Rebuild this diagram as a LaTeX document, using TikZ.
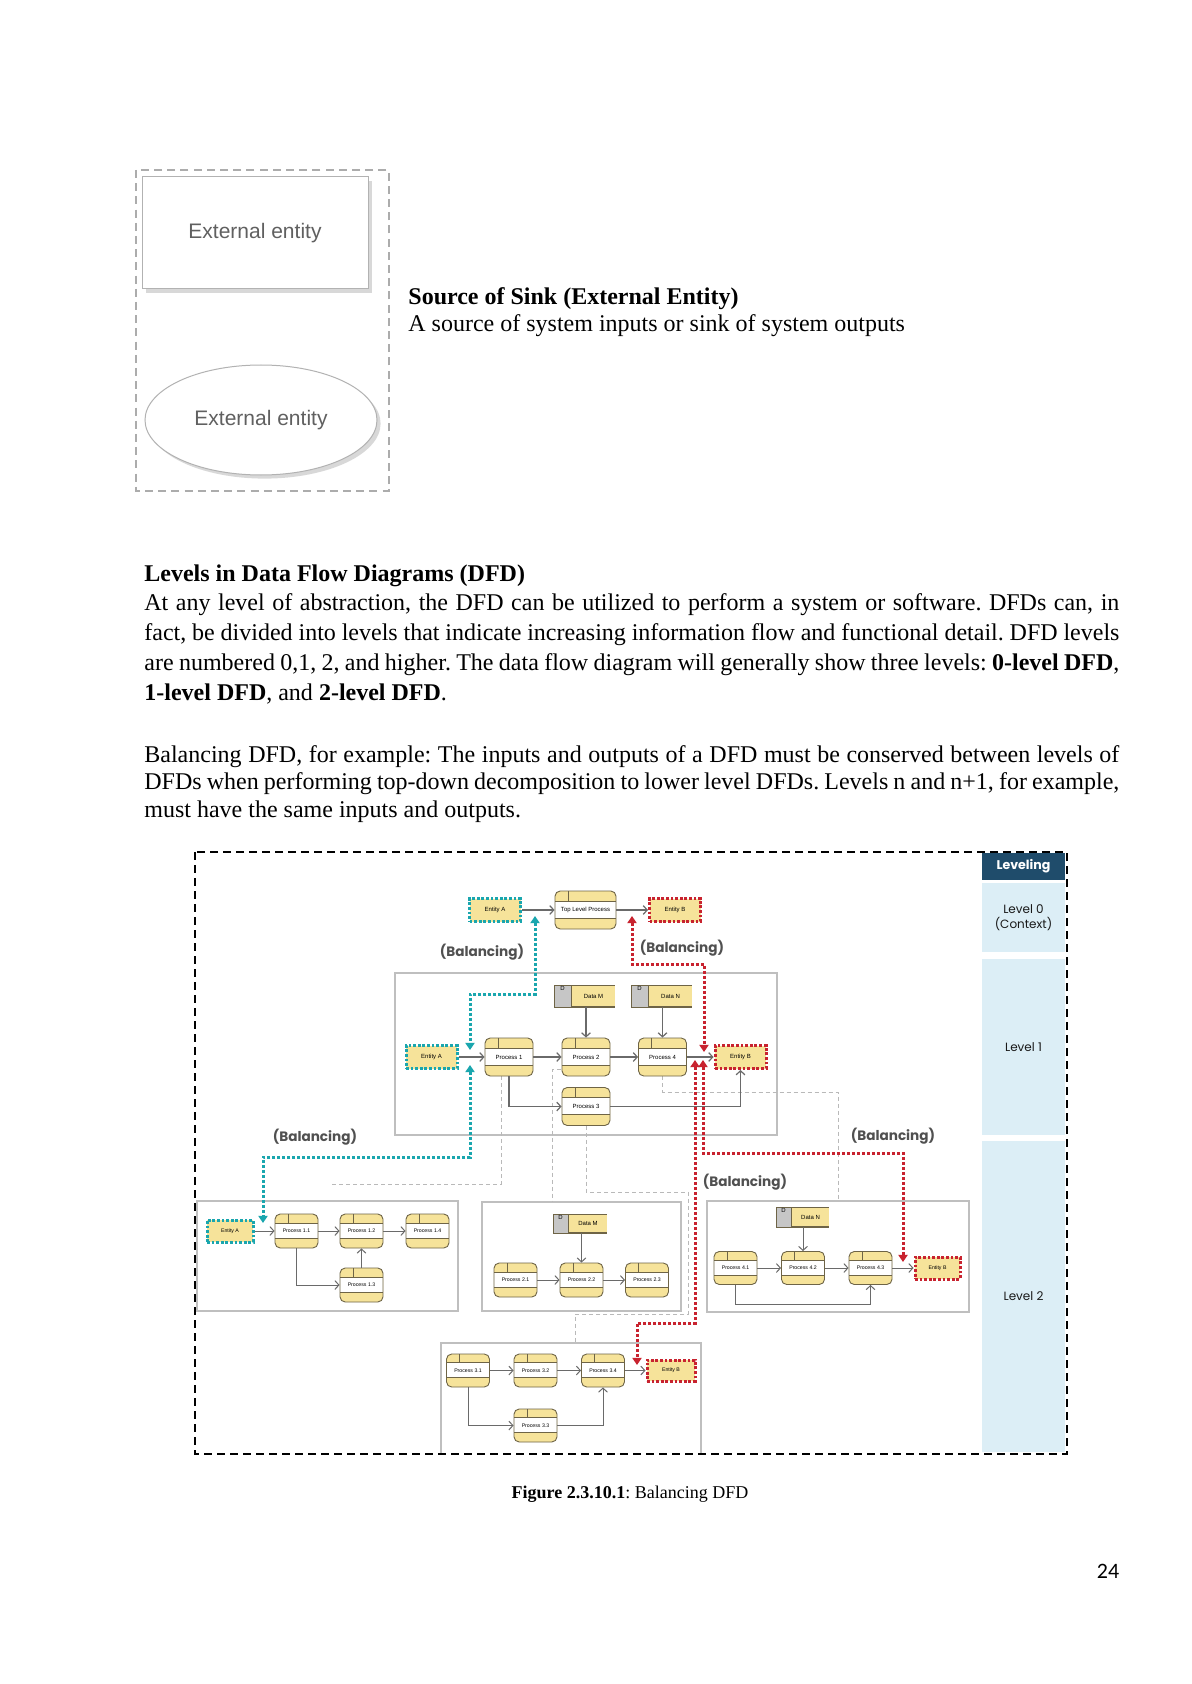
\documentclass[tikz,border=0pt]{standalone}
\usepackage{fontspec}
\setmainfont{Liberation Serif}
\setsansfont{Liberation Sans}
\newfontfamily\lvlfont{Poppins}
\newfontfamily\numfont{Carlito}
\usetikzlibrary{arrows.meta,calc,shapes.geometric,shadows,backgrounds}
\frenchspacing

\definecolor{procyel}{HTML}{F6E39A}
\definecolor{procedge}{HTML}{6E6446}
\definecolor{flowgray}{HTML}{6A6A6A}
\definecolor{balteal}{HTML}{1AA6AE}
\definecolor{balred}{HTML}{C8232F}
\definecolor{lvlblue}{HTML}{DCEEF6}
\definecolor{lvldark}{HTML}{1F4C6B}
\definecolor{taggray}{HTML}{C6C6C6}
\definecolor{baltext}{HTML}{505050}

\newcommand\jline[1]{\makebox[487.5pt][s]{#1}}
\newcommand\dfdfont{\sffamily\fontsize{3}{3.6}\selectfont}
\newcommand\sdfdfont{\sffamily\fontsize{2.6}{3.1}\selectfont}

\tikzset{
  >={Straight Barb[length=2pt,width=4.4pt]},
  bodytxt/.style={anchor=base west,inner sep=0pt,font=\fontsize{12}{15}\selectfont},
  extent/.style={draw=gray!60,line width=0.5pt,fill=white,minimum width=113pt,
    minimum height=56pt,font=\sffamily\fontsize{10.5}{12}\selectfont,text=gray!75!black,
    drop shadow={shadow xshift=1.8pt,shadow yshift=-1.8pt,opacity=0.3,fill=gray}},
  proc/.style={draw=procedge,line width=0.45pt,fill=procyel,rounded corners=2.6pt,
    minimum width=24pt,minimum height=19pt,inner sep=0pt,font=\dfdfont,
    path picture={
      \coordinate (pa) at (path picture bounding box.north west);
      \coordinate (pb) at (path picture bounding box.south east);
      \fill[white,sharp corners] ($(pa)!.27!(pa |- pb)$) rectangle ($(pa -| pb)!.72!(pb)$);
      \draw[procedge,line width=0.45pt,sharp corners]
        ($(pa)!.27!(pa |- pb)$) -- ($(pa -| pb)!.27!(pb)$)
        ($(pa)!.72!(pa |- pb)$) -- ($(pa -| pb)!.72!(pb)$)
        ($(pa)+(6.5pt,0pt)$) -- ($(pa)!.27!(pa |- pb)+(6.5pt,0pt)$);
    }},
  sproc/.style={proc,minimum width=21.5pt,minimum height=17pt,font=\sdfdfont},
  ent/.style={fill=procyel,draw=#1,line width=1.5pt,dash pattern=on 1.4pt off 0.9pt,
    minimum width=25.5pt,minimum height=11.5pt,inner sep=0pt,font=\dfdfont},
  sent/.style={ent=#1,minimum width=23pt,minimum height=11pt,font=\sdfdfont},
  store/.style={fill=procyel,minimum width=21.5pt,minimum height=11pt,inner sep=0pt,
    font=\dfdfont,
    path picture={\draw[procedge,line width=0.9pt]
      (path picture bounding box.north west) -- (path picture bounding box.north east)
      (path picture bounding box.south west) -- (path picture bounding box.south east);}},
  storetag/.style={fill=taggray,draw=procedge,line width=0.45pt,minimum width=8.5pt,
    minimum height=11pt,inner sep=0pt,
    label={[anchor=north,inner sep=0.7pt,font=\dfdfont]north:D}},
  flow/.style={->,draw=flowgray,line width=0.6pt},
  sflow/.style={flow,line width=0.5pt},
  lnk/.style={draw=gray!55,line width=0.4pt,dash pattern=on 2pt off 1.5pt},
  lvlframe/.style={draw=gray!50,line width=0.6pt},
  balA/.style={{Triangle[length=3.6pt,width=4.6pt]}-{Triangle[length=3.6pt,width=4.6pt]},
    draw=balteal,line width=1.5pt,dash pattern=on 1.5pt off 1pt},
  balB/.style={balA,draw=balred},
  ballbl/.style={font=\lvlfont\bfseries\fontsize{6.8}{8}\selectfont,text=baltext,inner sep=0pt},
  lvlpanel/.style={fill=lvlblue,minimum width=41.5pt,inner sep=0pt,
    font=\lvlfont\fontsize{6}{7.5}\selectfont,text=gray!20!black,align=center},
}

\begin{document}
\begin{tikzpicture}[x=0.5pt,y=-0.5pt]
  \useasboundingbox (0,0) rectangle (1191,1684);

  \draw[gray!65,line width=0.7pt,dash pattern=on 4pt off 2.6pt] (136,170) rectangle (389,491);
  \node[extent] (ee1) at (255,233) {External entity};
  \node[extent,ellipse,minimum width=116pt,minimum height=55pt] (ee2) at (261,420) {External entity};

  \node[bodytxt] (srchead) at (408,305) {\textbf{Source of Sink (External Entity)}};
  \node[bodytxt] (srcline) at (408,332) {A source of system inputs or sink of system outputs};

  \node[bodytxt] (lvhead) at (144,581) {\textbf{Levels in Data Flow Diagrams (DFD)}};
  \node[bodytxt] (pa1) at (144,610) {\jline{At any level of abstraction, the DFD can be utilized to perform a system or software. DFDs can, in}};
  \node[bodytxt] (pa2) at (144,640) {\jline{fact, be divided into levels that indicate increasing information flow and functional detail. DFD levels}};
  \node[bodytxt] (pa3) at (144,670) {\jline{are numbered 0,1, 2, and higher. The data flow diagram will generally show three levels: \textbf{0-level DFD},}};
  \node[bodytxt] (pa4) at (144,700) {\textbf{1-level DFD}, and \textbf{2-level DFD}.};
  \node[bodytxt] (pb1) at (144,762) {\jline{Balancing DFD, for example: The inputs and outputs of a DFD must be conserved between levels of}};
  \node[bodytxt] (pb2) at (144,789) {\jline{DFDs when performing top-down decomposition to lower level DFDs. Levels n and n+1, for example,}};
  \node[bodytxt] (pb3) at (144,817) {must have the same inputs and outputs.};

  \node[lvlpanel,fill=lvldark,text=white,minimum height=13.5pt,
    font=\lvlfont\bfseries\fontsize{6.3}{7.5}\selectfont] (lvhd) at (1023.5,866.5) {Leveling};
  \node[lvlpanel,minimum height=34.5pt] (lv0) at (1023.5,917.5) {Level 0\\(Context)};
  \node[lvlpanel,minimum height=88pt] (lv1) at (1023.5,1047) {Level 1};
  \node[lvlpanel,minimum height=155.5pt] (lv2) at (1023.5,1296.5) {Level 2};

  \node[ent=balteal] (ea0) at (495,910) {Entity A};
  \node[proc,minimum width=30.5pt] (tlp) at (585.5,910) {Top Level Process};
  \node[ent=balred] (eb0) at (675,910) {Entity B};
  \draw[flow] (ea0) -- (tlp);
  \draw[flow] (tlp) -- (eb0);

  \node[ent=balteal] (ea1) at (431.5,1057) {Entity A};
  \node[proc] (p1) at (509,1057) {Process 1};
  \node[proc] (p2) at (586,1057) {Process 2};
  \node[proc] (p4) at (662.5,1057) {Process 4};
  \node[ent=balred] (eb1) at (740.5,1057) {Entity B};
  \node[proc] (p3) at (586,1106.5) {Process 3};
  \node[store] (dm1) at (593.5,996) {Data M};
  \node[storetag,anchor=north east] (dm1t) at (dm1.north west) {};
  \node[store] (dn1) at (670.5,996) {Data N};
  \node[storetag,anchor=north east] (dn1t) at (dn1.north west) {};
  \foreach \a/\b in {ea1/p1,p1/p2,p2/p4,p4/eb1} \draw[flow] (\a) -- (\b);
  \draw[flow] (dm1.south -| p2.north) -- (p2.north);
  \draw[flow] (dn1.south -| p4.north) -- (p4.north);
  \draw[flow] (p1.south) |- (p3.west);
  \draw[flow] (p3.east) -| (eb1.south);

  \node[sent=balteal] (ea2) at (230,1231) {Entity A};
  \node[sproc] (p11) at (296.5,1231) {Process 1.1};
  \node[sproc] (p12) at (361.5,1231) {Process 1.2};
  \node[sproc] (p14) at (427.5,1231) {Process 1.4};
  \node[sproc] (p13) at (361.5,1285) {Process 1.3};
  \foreach \a/\b in {ea2/p11,p11/p12,p12/p14,p13/p12} \draw[sflow] (\a) -- (\b);
  \draw[sflow] (p11.south) |- (p13.west);

  \node[store,minimum width=19pt,minimum height=9.5pt] (dm2) at (588,1223.5) {Data M};
  \node[storetag,minimum width=7.5pt,minimum height=9.5pt,anchor=north east] (dm2t) at (dm2.north west) {};
  \node[sproc] (p21) at (515.5,1280) {Process 2.1};
  \node[sproc] (p22) at (581.5,1280) {Process 2.2};
  \node[sproc] (p23) at (647,1280) {Process 2.3};
  \foreach \a/\b in {p21/p22,p22/p23} \draw[sflow] (\a) -- (\b);
  \draw[sflow] (dm2.south -| p22.north) -- (p22.north);

  \node[store,minimum width=18.5pt,minimum height=10pt] (dn2) at (810.5,1217) {Data N};
  \node[storetag,minimum width=7.5pt,minimum height=10pt,anchor=north east] (dn2t) at (dn2.north west) {};
  \node[sproc,minimum height=16.5pt] (p41) at (735.5,1268) {Process 4.1};
  \node[sproc,minimum height=16.5pt] (p42) at (803,1268) {Process 4.2};
  \node[sproc,minimum height=16.5pt] (p43) at (870.5,1268) {Process 4.3};
  \node[sent=balred,minimum width=22.5pt] (eb2) at (937.5,1268) {Entity B};
  \foreach \a/\b in {p41/p42,p42/p43,p43/eb2} \draw[sflow] (\a) -- (\b);
  \draw[sflow] (dn2.south -| p42.north) -- (p42.north);
  \draw[sflow] (p41.south) -- ++(0,20) -| (p43.south);

  \node[sproc,minimum height=16.5pt] (p31) at (468,1370.5) {Process 3.1};
  \node[sproc,minimum height=16.5pt] (p32) at (535.5,1370.5) {Process 3.2};
  \node[sproc,minimum height=16.5pt] (p34) at (603,1370.5) {Process 3.4};
  \node[sproc,minimum height=16.5pt] (p33) at (535.5,1425.5) {Process 3.3};
  \node[sent=balred,minimum width=24pt,minimum height=10.5pt] (eb3) at (671,1370.5) {Entity B};
  \foreach \a/\b in {p31/p32,p32/p34,p34/eb3} \draw[sflow] (\a) -- (\b);
  \draw[sflow] (p31.south) |- (p33.west);
  \draw[sflow] (p33.east) -| (p34.south);

  \begin{scope}[on background layer]
    \fill[white] (0,0) rectangle (1191,1684);
    \draw[lvlframe] (395,973) rectangle (777,1135);
    \draw[lvlframe] (197,1201) rectangle (458,1311);
    \draw[lvlframe] (482,1202) rectangle (681,1311);
    \draw[lvlframe] (707,1201) rectangle (969,1312);
    \draw[lvlframe] (441,1454) |- (701,1343) -- (701,1454);
    \coordinate (lk1) at (330,1184);
    \coordinate (lk2) at (552,1202);
    \coordinate (lk3) at (575,1343);
    \coordinate (lk4) at (838,1201);
    \draw[lnk] ($(p1.south)+(-8,0)$) |- (lk1);
    \draw[lnk] ($(p2.south west)+(6,-7)$) -| (lk2);
    \draw[lnk] (p3.south) -- ++(0,66) -| (688,1314) -| (lk3);
    \draw[lnk] (p4.south) -- ++(0,16) -| (lk4);
  \end{scope}

  \coordinate (ta0) at (535,916);
  \coordinate (ta1) at (470,1050);
  \coordinate (ta2) at (470,1065);
  \coordinate (ta3) at (263,1223);
  \coordinate (tb0) at (632,916);
  \coordinate (tb1) at (704,1052);
  \coordinate (tb2) at (703,1060);
  \coordinate (tb3) at (903,1262);
  \coordinate (tb4) at (695,1060);
  \coordinate (tb5) at (637,1365);
  \draw[balA] (ta0) -- ++(0,78) -| (ta1);
  \draw[balA] (ta2) -- ++(0,92) -| (ta3);
  \draw[balB] (tb0) -- ++(0,48) -| (tb1);
  \draw[balB] (tb2) -- ++(0,93) -| (tb3);
  \draw[balB] (tb4) -- ++(0,263) -| (tb5);

  \node[ballbl] (bl0a) at (482,952) {(Balancing)};
  \node[ballbl] (bl0b) at (682,948) {(Balancing)};
  \node[ballbl] (bl1a) at (315,1137) {(Balancing)};
  \node[ballbl] (bl1b) at (893,1136) {(Balancing)};
  \node[ballbl] (bl2) at (745,1182) {(Balancing)};

  \draw[line width=1.1pt,dash pattern=on 4pt off 2.5pt] (195,852) rectangle (1067,1454);

  \node[bodytxt,anchor=base,font=\fontsize{9}{11}\selectfont] (cap) at (630,1498)
    {\textbf{Figure 2.3.10.1}: Balancing DFD};
  \node[anchor=base,inner sep=0pt,font=\numfont\fontsize{11}{13}\selectfont] (pgno) at (1108,1578) {24};
\end{tikzpicture}
\end{document}
